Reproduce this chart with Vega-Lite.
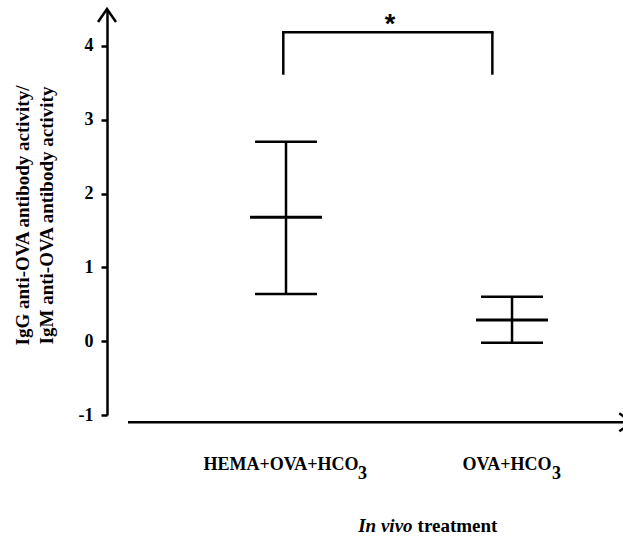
{
  "$schema": "https://vega.github.io/schema/vega-lite/v6.json",
  "width": 516,
  "height": 406,
  "autosize": {"type": "none"},
  "padding": {"left": 107, "top": 9, "right": 0, "bottom": 123},
  "background": "white",
  "config": {"view": {"stroke": null}, "font": "Liberation Serif"},
  "datasets": {
    "groups": [
      {"group": "HEMA+OVA+HCO", "sub": "3", "x": 1, "mean": 1.678, "lo": 0.639, "hi": 2.702},
      {"group": "OVA+HCO", "sub": "3", "x": 2, "mean": 0.287, "lo": -0.021, "hi": 0.603}
    ],
    "bracket": [
      {"x1": 0.988, "x2": 1.913, "mid": 1.46, "top": 4.184, "bottom": 3.61, "label": "*"}
    ],
    "axes": [
      {"xstart": 0.301, "xend": 2.532, "xbase": 0.208, "ybase": -1.099, "ytop": 4.5, "labelx": 1.571, "labely": -2.581}
    ]
  },
  "layer": [
    {
      "data": {"name": "groups"},
      "mark": {"type": "rule", "strokeWidth": 2.5, "color": "black"},
      "encoding": {
        "x": {"field": "x", "type": "quantitative", "scale": {"domain": [0.208, 2.491], "nice": false, "zero": false}, "axis": null},
        "y": {
          "field": "lo", "type": "quantitative",
          "scale": {"domain": [-1, 4.5], "nice": false, "zero": false},
          "axis": {
            "values": [-1, 0, 1, 2, 3, 4],
            "labelExpr": "'' + datum.value",
            "grid": false,
            "domainColor": "black", "domainWidth": 2.5, "domainCap": "butt",
            "tickColor": "black", "tickWidth": 2.5, "tickSize": 6,
            "labelFont": "Liberation Serif", "labelFontWeight": "bold", "labelFontSize": 18, "labelColor": "black", "labelPadding": 8,
            "title": ["IgG anti-OVA antibody activity/", "IgM anti-OVA antibody activity"],
            "titleFont": "Liberation Serif", "titleFontWeight": "bold", "titleFontSize": 19, "titleColor": "black",
            "titleLineHeight": 24, "titleAngle": -90, "titleX": -94, "titleY": 206, "titleAlign": "center", "titleBaseline": "top"
          }
        },
        "y2": {"field": "hi"}
      }
    },
    {
      "data": {"name": "groups"},
      "mark": {"type": "tick", "orient": "horizontal", "size": 62, "thickness": 2.5, "color": "black", "opacity": 1},
      "encoding": {"x": {"field": "x", "type": "quantitative"}, "y": {"field": "lo", "type": "quantitative"}}
    },
    {
      "data": {"name": "groups"},
      "mark": {"type": "tick", "orient": "horizontal", "size": 62, "thickness": 2.5, "color": "black", "opacity": 1},
      "encoding": {"x": {"field": "x", "type": "quantitative"}, "y": {"field": "hi", "type": "quantitative"}}
    },
    {
      "data": {"name": "groups"},
      "mark": {"type": "tick", "orient": "horizontal", "size": 72, "thickness": 3, "color": "black", "opacity": 1},
      "encoding": {"x": {"field": "x", "type": "quantitative"}, "y": {"field": "mean", "type": "quantitative"}}
    },
    {
      "data": {"name": "groups"},
      "mark": {"type": "text", "font": "Liberation Serif", "fontWeight": "bold", "fontSize": 18, "align": "center", "baseline": "alphabetic", "dx": -5, "color": "black"},
      "encoding": {"x": {"field": "x", "type": "quantitative"}, "y": {"datum": -1.745, "type": "quantitative"}, "text": {"field": "group"}}
    },
    {
      "data": {"name": "groups"},
      "transform": [{"filter": "datum.x == 1"}],
      "mark": {"type": "text", "font": "Liberation Serif", "fontWeight": "bold", "fontSize": 18, "align": "left", "baseline": "alphabetic", "dx": 72, "dy": 9, "color": "black"},
      "encoding": {"x": {"field": "x", "type": "quantitative"}, "y": {"datum": -1.745, "type": "quantitative"}, "text": {"field": "sub"}}
    },
    {
      "data": {"name": "groups"},
      "transform": [{"filter": "datum.x == 2"}],
      "mark": {"type": "text", "font": "Liberation Serif", "fontWeight": "bold", "fontSize": 18, "align": "left", "baseline": "alphabetic", "dx": 40, "dy": 9, "color": "black"},
      "encoding": {"x": {"field": "x", "type": "quantitative"}, "y": {"datum": -1.745, "type": "quantitative"}, "text": {"field": "sub"}}
    },
    {
      "data": {"name": "bracket"},
      "mark": {"type": "rule", "strokeWidth": 2.5, "color": "black", "strokeCap": "square"},
      "encoding": {"x": {"field": "x1", "type": "quantitative"}, "x2": {"field": "x2"}, "y": {"field": "top", "type": "quantitative"}}
    },
    {
      "data": {"name": "bracket"},
      "mark": {"type": "rule", "strokeWidth": 2.5, "color": "black"},
      "encoding": {"x": {"field": "x1", "type": "quantitative"}, "y": {"field": "bottom", "type": "quantitative"}, "y2": {"field": "top"}}
    },
    {
      "data": {"name": "bracket"},
      "mark": {"type": "rule", "strokeWidth": 2.5, "color": "black"},
      "encoding": {"x": {"field": "x2", "type": "quantitative"}, "y": {"field": "bottom", "type": "quantitative"}, "y2": {"field": "top"}}
    },
    {
      "data": {"name": "bracket"},
      "mark": {"type": "text", "font": "Liberation Sans", "fontWeight": "bold", "fontSize": 27, "align": "center", "baseline": "alphabetic", "dy": 1, "color": "black"},
      "encoding": {"x": {"field": "mid", "type": "quantitative"}, "y": {"field": "top", "type": "quantitative"}, "text": {"field": "label"}}
    },
    {
      "data": {"name": "axes"},
      "mark": {"type": "rule", "strokeWidth": 2.5, "color": "black"},
      "encoding": {"x": {"field": "xstart", "type": "quantitative"}, "x2": {"field": "xend"}, "y": {"field": "ybase", "type": "quantitative"}}
    },
    {
      "data": {"name": "axes"},
      "mark": {"type": "point", "shape": "M-0.69,1L0,0L0.69,1", "size": 676, "filled": false, "stroke": "black", "strokeWidth": 2.5, "opacity": 1},
      "encoding": {"x": {"field": "xbase", "type": "quantitative"}, "y": {"field": "ytop", "type": "quantitative"}}
    },
    {
      "data": {"name": "axes"},
      "mark": {"type": "point", "shape": "M-1,-0.69L0,0L-1,0.69", "size": 676, "filled": false, "stroke": "black", "strokeWidth": 2.5, "opacity": 1},
      "encoding": {"x": {"field": "xend", "type": "quantitative"}, "y": {"field": "ybase", "type": "quantitative"}}
    },
    {
      "data": {"name": "axes"},
      "mark": {"type": "text", "font": "Liberation Serif", "fontWeight": "bold", "fontStyle": "italic", "fontSize": 19, "align": "right", "baseline": "alphabetic", "dx": -2.5, "color": "black", "text": "In vivo"},
      "encoding": {"x": {"field": "labelx", "type": "quantitative"}, "y": {"field": "labely", "type": "quantitative"}}
    },
    {
      "data": {"name": "axes"},
      "mark": {"type": "text", "font": "Liberation Serif", "fontWeight": "bold", "fontSize": 19, "align": "left", "baseline": "alphabetic", "dx": 2.5, "color": "black", "text": "treatment"},
      "encoding": {"x": {"field": "labelx", "type": "quantitative"}, "y": {"field": "labely", "type": "quantitative"}}
    }
  ]
}
